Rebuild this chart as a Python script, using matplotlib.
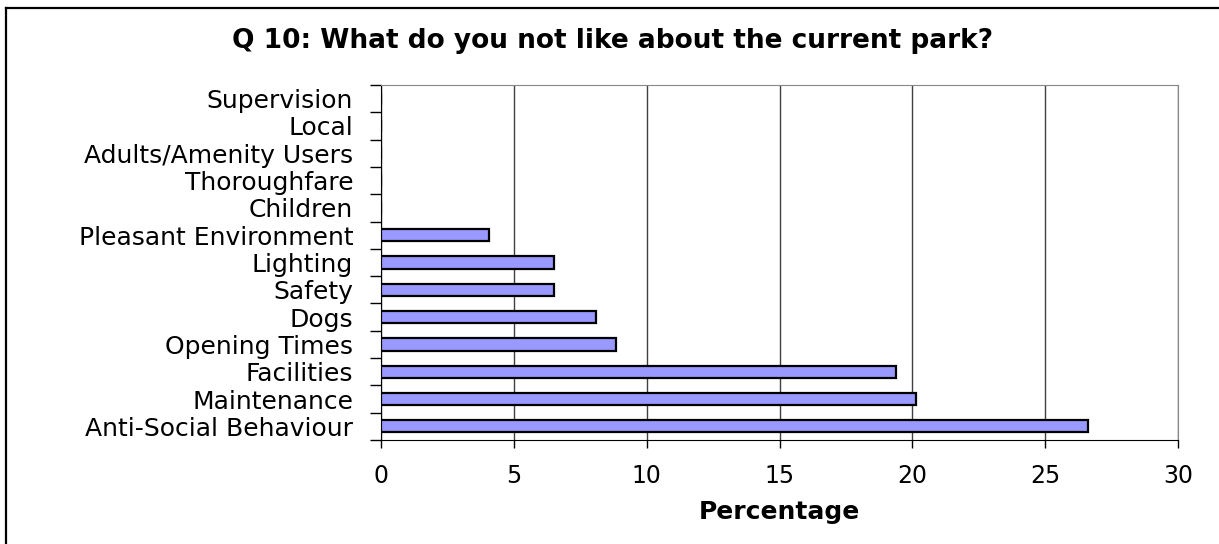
import matplotlib
matplotlib.use("Agg")
import matplotlib.pyplot as plt
from matplotlib.lines import Line2D
import numpy as np

# Data (bottom to top, as drawn)
categories = ["Anti-Social Behaviour", "Maintenance", "Facilities", "Opening Times",
              "Dogs", "Safety", "Lighting", "Pleasant Environment", "Children",
              "Thoroughfare", "Adults/Amenity Users", "Local", "Supervision"]
percentages = [26.6, 20.15, 19.4, 8.85, 8.1, 6.5, 6.5, 4.05, 0, 0, 0, 0, 0]
x_ticks = [0, 5, 10, 15, 20, 25, 30]

plt.rcParams['font.family'] = ['DejaVu Sans']

W, H = 1219, 544
fig = plt.figure(figsize=(W / 100, H / 100), dpi=100)
ax = fig.add_axes([381 / W, 1 - 440 / H, (1178 - 381) / W, (440 - 85) / H])

y = np.arange(len(categories))
ax.barh(y, percentages, height=0.45, color="#9999FF", edgecolor="black", linewidth=1.6, zorder=3)

ax.set_xlim(0, 30)
ax.set_ylim(-0.5, len(categories) - 0.5)
ax.set_xticks(x_ticks)
ax.set_xticklabels([str(t) for t in x_ticks], fontsize=17)
ax.tick_params(axis="x", direction="out", length=6, width=1, pad=11)

# tick marks between categories, labels at centres
ax.set_yticks(np.arange(-0.5, len(categories), 1.0))
ax.set_yticklabels([])
ax.set_yticks(y, minor=True)
ax.set_yticklabels(categories, minor=True, fontsize=18)
ax.tick_params(axis="y", which="major", direction="out", length=8, width=1)
ax.tick_params(axis="y", which="minor", length=0, pad=20)

ax.grid(axis="x", color="#404040", linewidth=1, zorder=0)
ax.spines["left"].set_color("black")
ax.spines["bottom"].set_color("black")
ax.spines["top"].set_color("#888888")
ax.spines["right"].set_color("#888888")

ax.set_xlabel("Percentage", fontsize=18, fontweight="bold", labelpad=9)
fig.text(0.5 + 3 / W, 1 - 41 / H, "Q 10: What do you not like about the current park?",
         ha="center", va="center", fontsize=19, fontweight="bold")

# outer border (only left and top edges fall inside the picture)
fig.add_artist(Line2D([6 / W, 6 / W], [0, 1 - 8 / H], transform=fig.transFigure,
                      color="black", linewidth=1.6))
fig.add_artist(Line2D([6 / W, 1], [1 - 8 / H, 1 - 8 / H], transform=fig.transFigure,
                      color="black", linewidth=1.6))

fig.savefig("out.png", dpi=100)
